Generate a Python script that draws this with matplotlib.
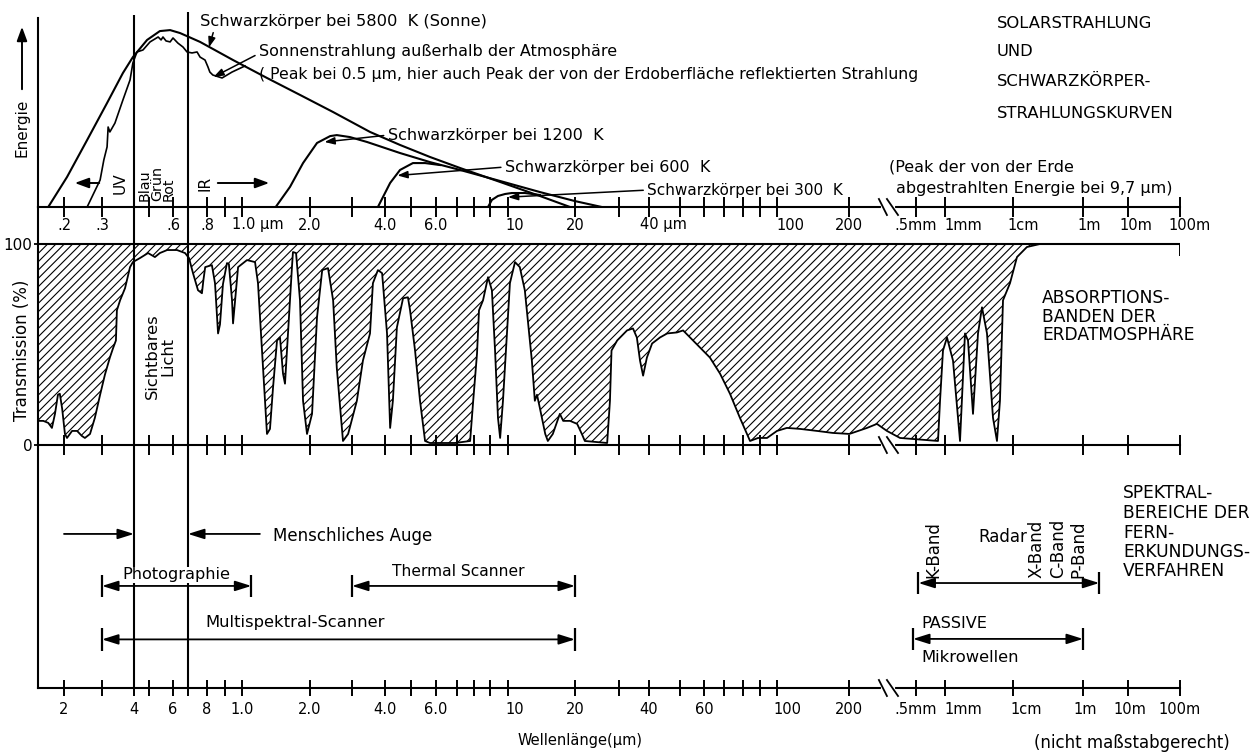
import numpy as np
import matplotlib
matplotlib.use('Agg')
import matplotlib.pyplot as plt
import matplotlib.transforms as mtransforms
from matplotlib.ticker import FixedLocator, NullLocator

plt.rcParams['font.family'] = ['DejaVu Sans']
plt.rcParams['hatch.linewidth'] = 0.8

W, H = 1254, 755

# wavelength axis (not to scale): wavelength in µm -> drawing position
axis_wl = [0.15, 0.2, 0.3, 0.4, 0.5, 0.6, 0.7, 0.8, 0.9, 1.0, 2, 3, 4, 5, 6, 7, 8, 9, 10,
           20, 30, 40, 50, 60, 70, 80, 90, 100, 200, 500, 1000, 1e4, 1e6, 1e7, 1e8]
axis_pos = [38, 64, 102, 134, 149, 173, 188, 207, 225, 242, 310, 352, 385, 411, 436, 457, 474, 490, 508,
            575, 619, 649, 680, 704, 724, 743, 760, 777, 849, 916, 945, 1013, 1083, 1128, 1180]

tick_wl = [0.2, 0.3, 0.4, 0.5, 0.6, 0.7, 0.8, 0.9, 1.0, 2, 3, 4, 5, 6, 7, 8, 9, 10,
           20, 30, 40, 50, 60, 70, 80, 90, 100, 200, 500, 1000, 1e4, 1e6, 1e7, 1e8]

upper_lbl_wl = [0.2, 0.3, 0.6, 0.8, 1.0, 2, 4, 6, 10, 20, 40, 100, 200, 500, 1000, 1e4, 1e6, 1e7, 1e8]
upper_lbl_txt = ['.2', '.3', '.6', '.8', '1.0 µm', '2.0', '4.0', '6.0', '10', '20', '40 µm',
                 '100', '200', '.5mm', '1mm', '1cm', '1m', '10m', '100m']
lower_lbl_wl = [0.2, 0.4, 0.6, 0.8, 1.0, 2, 4, 6, 10, 20, 40, 60, 100, 200, 500, 1000, 1e4, 1e6, 1e7, 1e8]
lower_lbl_txt = ['2', '4', '6', '8', '1.0', '2.0', '4.0', '6.0', '10', '20', '40', '60',
                 '100', '200', '.5mm', '1mm', '1cm', '1m', '10m', '100m']

# radiation curves (relative energy)
bb5800_wl = [0.168, 0.2065, 0.256, 0.314, 0.362, 0.396, 0.486, 0.543, 0.587, 0.645, 0.762, 0.946,
             1.29, 1.806, 2.5, 3.51, 4.55, 5.74, 7.17, 9.55, 13.9, 19.0]
bb5800_e = [0, 15.2, 34, 52.8, 68, 76.1, 84.8, 89.3, 89.8, 88.3, 83.8, 74.6,
            65.5, 56.9, 48.2, 38.1, 31.5, 25.4, 19.8, 12.7, 5.6, 0]
sun_wl = [0.256, 0.294, 0.305, 0.314, 0.317, 0.322, 0.337, 0.362, 0.386, 0.396, 0.418, 0.457,
          0.504, 0.523, 0.536, 0.548, 0.556, 0.569, 0.587, 0.6, 0.631, 0.665, 0.693, 0.72,
          0.746, 0.762, 0.789, 0.805, 0.815, 0.831, 0.883, 0.94, 1.031]
sun_e = [0, 13.7, 23.9, 30.5, 40.6, 38.1, 42.6, 54.3, 64.5, 73.1, 78.7, 79.7,
         83.8, 85.3, 86.3, 84.8, 86.3, 84.3, 83.8, 85.8, 83.2, 81.2, 78.7, 78.2,
         78.7, 76.1, 74.6, 71.1, 68.5, 67, 65.5, 68.5, 71.6]
bb1200_wl = [1.41, 1.631, 1.863, 2.14, 2.43, 2.59, 2.94, 3.42, 4.55, 5.74, 7.17, 9.55, 13.9, 20, 25.6]
bb1200_e = [0, 10.2, 22.3, 32.5, 36, 36.5, 35.5, 33, 27.4, 22.8, 18.8, 13.2, 7.6, 3.0, 0]
bb600_wl = [3.76, 4.18, 4.55, 5.07, 5.54, 6.18]
bb600_e = [0, 12.2, 18.8, 22.3, 22.3, 21.3]
bb300_wl = [8.87, 9.1, 9.43, 9.83, 10.4, 11.9, 13.9]
bb300_e = [0, 3.6, 5.6, 6.6, 7.1, 7.1, 6.1]

# atmospheric transmission (%)
trans_wl = [0.15, 0.159, 0.168, 0.175, 0.181, 0.187, 0.191, 0.196, 0.202, 0.2065, 0.218, 0.23,
            0.242, 0.25, 0.264, 0.278, 0.294, 0.308, 0.322, 0.331, 0.34, 0.343, 0.353, 0.369,
            0.386, 0.396, 0.437, 0.493, 0.523, 0.543, 0.574, 0.625, 0.679, 0.705, 0.725, 0.751,
            0.772, 0.78, 0.79, 0.826, 0.843, 0.86, 0.871, 0.888, 0.911, 0.922, 0.94, 0.946,
            0.958, 0.976, 1.052, 1.142, 1.177, 1.239, 1.29, 1.33, 1.372, 1.429, 1.473, 1.519,
            1.55, 1.598, 1.664, 1.681, 1.735, 1.806, 1.863, 1.94, 2.04, 2.14, 2.25, 2.38,
            2.5, 2.59, 2.75, 2.89, 3.13, 3.3, 3.51, 3.6, 3.76, 3.9, 4.07, 4.18,
            4.28, 4.43, 4.67, 4.87, 4.96, 5.15, 5.34, 5.54, 5.74, 6.41, 6.9, 7.76,
            7.95, 8.18, 8.3, 8.55, 8.87, 9.1, 9.27, 9.43, 9.55, 9.71, 9.94, 10.2,
            10.75, 11.3, 11.9, 12.8, 13.2, 13.5, 13.9, 14.7, 15.1, 15.9, 17.1, 17.7,
            19.0, 20.4, 21.3, 21.9, 26.9, 27.6, 28.0, 29.5, 32.4, 34.3, 35.6, 36.7,
            37.8, 39.2, 40.9, 43.3, 45.6, 48.9, 51.2, 54.0, 58.2, 62.8, 67.9, 73.0,
            78.3, 82.2, 84.0, 88.8, 94.0, 100, 110, 125, 147, 171, 201, 256,
            293, 336, 402, 480, 846, 888, 953, 1070, 1311, 1663, 1968, 2179,
            2581, 3058, 3499, 4145, 5080, 5810, 6430, 7130, 9030, 1.3e4, 2.5e4, 5.9e4, 1e8]
trans_pct = [12, 12, 11, 8.5, 15.5, 25, 25.5, 18, 5.5, 3.5, 7, 7,
             4.5, 3.5, 5.5, 13.5, 25, 35, 43.5, 48, 52, 67, 72, 78,
             88.5, 91, 93, 95.5, 93.5, 95.5, 97, 97, 95.5, 93, 85.5, 77,
             75.5, 82, 88.5, 89.5, 80.5, 55.5, 60, 80, 90.5, 90, 72, 60.5,
             72, 88.5, 92, 91, 80.5, 38.5, 5.5, 8, 28.5, 52, 53.5, 35.5,
             30.5, 55.5, 88.5, 96, 95.5, 72, 22, 5.5, 15.5, 63.5, 87, 88,
             72, 38.5, 2, 5.5, 22, 42, 55.5, 80.5, 87, 85.5, 55.5, 8.5,
             22, 58.5, 73, 73.5, 67, 47, 22, 2, 1, 1, 1, 2,
             22, 45.5, 67, 72, 83.5, 77, 47, 13.5, 3.5, 22, 55.5, 80.5,
             91, 88.5, 77, 42, 22, 25, 18.5, 5.5, 2, 5.5, 15.5, 12,
             12, 10.5, 5.5, 2, 1, 22, 47, 52, 57, 58, 53.5, 42,
             34.5, 43.5, 50.5, 53.5, 55.5, 56, 57, 53.5, 48.5, 43.5, 35.5, 25.5,
             13.5, 5.5, 2, 3.5, 3.5, 7, 8.5, 8, 7, 6, 5.5, 8.5,
             10.5, 7, 3.5, 3, 2, 22, 47, 53.5, 42, 2, 55.5, 52,
             15.5, 55.5, 68.5, 55.5, 13.5, 2, 22, 72, 80.5, 93.5, 98.5, 100, 100]

# remote sensing ranges (µm)
range_names = ['Photographie', 'Thermal Scanner', 'Multispektral-Scanner', 'Radar', 'Mikrowellen']
range_lo = [0.3, 3, 0.3, 530, 480]
range_hi = [1.1, 20, 20, 2.3e6, 1e6]
range_row = [42, 42, 20, 43.2, 20.2]
eye_from = [0.2, 1.2]
eye_to = [0.4, 0.7]
eye_row = 63.4
visible_edges = [0.4, 0.7]

LOG_A = np.log10(axis_wl)
POS_A = np.array(axis_pos, dtype=float)


def fwd(w):
    w = np.asarray(w, dtype=float)
    return np.interp(np.log10(np.maximum(w, 1e-12)), LOG_A, POS_A)


def inv(p):
    return 10 ** np.interp(np.asarray(p, dtype=float), POS_A, LOG_A)


fig = plt.figure(figsize=(W / 100, H / 100), dpi=100)


def make_ax(top_px, bot_px):
    ax = fig.add_axes([38 / W, 1 - bot_px / H, 1142 / W, (bot_px - top_px) / H])
    ax.set_xscale('function', functions=(fwd, inv))
    ax.set_xlim(0.15, 1e8)
    ax.patch.set_visible(False)
    for s in ['top', 'right']:
        ax.spines[s].set_visible(False)
    for s in ['left', 'bottom']:
        ax.spines[s].set_linewidth(1.5)
    ax.xaxis.set_major_locator(FixedLocator(tick_wl))
    ax.xaxis.set_minor_locator(NullLocator())
    ax.tick_params(axis='x', direction='inout', length=15, width=1.4, labelbottom=False)
    ax.set_yticks([])
    return ax


def ftext(x, y, s, **kw):
    kw.setdefault('fontsize', 11.5)
    kw.setdefault('va', 'center')
    fig.text(x / W, 1 - y / H, s, **kw)


def farrow(x0, y0, x1, y1):
    fig.add_artist(matplotlib.patches.FancyArrowPatch(
        (x0 / W, 1 - y0 / H), (x1 / W, 1 - y1 / H), transform=fig.transFigure,
        arrowstyle='-|>,head_length=0.6,head_width=0.22', mutation_scale=14, lw=1.4, color='k'))


ax_e = make_ax(10, 207)
ax_t = make_ax(207, 445)
ax_b = make_ax(445, 688)
ax_e.set_ylim(0, 100)
ax_t.set_ylim(0, 100 * 238 / 201)
ax_b.set_ylim(0, 100)
ax_e.spines['left'].set_bounds(0, 96)
ax_b.tick_params(axis='x', length=12)


def axis_labels(ax, wls, txts, dy, shifts):
    for wl, txt in zip(wls, txts):
        ha, dx = shifts.get(txt, ('center', 0))
        tr = mtransforms.offset_copy(ax.get_xaxis_transform(), fig=fig, x=dx, y=-dy, units='dots')
        ax.text(wl, 0, txt, transform=tr, ha=ha, va='center', fontsize=10.5)


axis_labels(ax_e, upper_lbl_wl, upper_lbl_txt, 18,
            {'1.0 µm': ('left', -10), '40 µm': ('left', -9), '100': ('left', -1), '1mm': ('left', -1),
             '10': ('center', 7), '1cm': ('center', 10), '1m': ('center', 6), '10m': ('center', 8),
             '100m': ('center', 10)})
axis_labels(ax_b, lower_lbl_wl, lower_lbl_txt, 21,
            {'10': ('center', 7), '100': ('center', 10), '1mm': ('left', -1), '1cm': ('center', 13),
             '1m': ('center', 2), '10m': ('center', 2)})

# axis breaks
for ax, hpx in [(ax_e, 197), (ax_t, 238), (ax_b, 243)]:
    d = 8 / hpx
    tr = ax.get_xaxis_transform()
    ax.plot([318, 365], [0, 0], color='white', lw=3, transform=tr, clip_on=False, zorder=5)
    for a, b in [(301, 336), (336, 391)]:
        ax.plot([a, b], [d, -d], color='k', lw=1.3, transform=tr, clip_on=False, zorder=6)

# --- top panel: radiation curves
lw = 1.5
ax_e.plot(bb5800_wl, bb5800_e, color='k', lw=lw)
ax_e.plot(sun_wl, sun_e, color='k', lw=1.2)
ax_e.plot(bb1200_wl, bb1200_e, color='k', lw=lw)
ax_e.plot(bb600_wl, bb600_e, color='k', lw=lw)
ax_e.plot(bb300_wl, bb300_e, color='k', lw=lw)

ap = dict(arrowstyle='-|>,head_length=0.5,head_width=0.18', mutation_scale=12, lw=1.1, color='k',
          shrinkA=1, shrinkB=0)
ax_e.annotate('Schwarzkörper bei 5800  K (Sonne)', xy=(0.81, 81), xytext=(0.762, 94.4),
              ha='left', va='center', fontsize=11.7, arrowprops=dict(ap, relpos=(0.05, 0)))
ax_e.annotate('Sonnenstrahlung außerhalb der Atmosphäre', xy=(0.835, 66), xytext=(1.19, 78.7),
              ha='left', va='center', fontsize=11.5, arrowprops=dict(ap, relpos=(0, 0.4)))
ax_e.text(1.19, 67.5, '( Peak bei 0.5 µm, hier auch Peak der von der Erdoberfläche reflektierten Strahlung',
          ha='left', va='center', fontsize=11.3)
ax_e.annotate('Schwarzkörper bei 1200  K', xy=(2.3, 33), xytext=(4.1, 36.5),
              ha='left', va='center', fontsize=11.5, arrowprops=dict(ap, relpos=(0, 0.5)))
ax_e.annotate('Schwarzkörper bei 600  K', xy=(4.45, 16), xytext=(9.83, 20.3),
              ha='left', va='center', fontsize=11.5, arrowprops=dict(ap, relpos=(0, 0.5)))
ax_e.annotate('Schwarzkörper bei 300  K', xy=(10.0, 5), xytext=(39.4, 8.6),
              ha='left', va='center', fontsize=11, arrowprops=dict(ap, relpos=(0, 0.5)))

ax_e.vlines(visible_edges, 0, [97.5, 99], color='k', lw=1.5)

ftext(22, 128, 'Energie', rotation=90, ha='center', fontsize=11)
farrow(22, 92, 22, 24)
ftext(120, 183, 'UV', rotation=90, ha='center', fontsize=11)
farrow(102, 183, 72, 183)
fig.text(157 / W, 1 - 201 / H, 'Blau\nGrün\nRot', rotation=90, ha='center', va='bottom',
         fontsize=10.3, linespacing=0.82, multialignment='left')
ftext(205, 183, 'IR', rotation=90, ha='center', fontsize=11)
farrow(215, 183, 272, 183)

for y, s in [(23, 'SOLARSTRAHLUNG'), (52, 'UND'), (81, 'SCHWARZKÖRPER-'), (113, 'STRAHLUNGSKURVEN')]:
    ftext(997, y, s, fontsize=11.8)
ftext(889, 167, '(Peak der von der Erde')
ftext(896, 188, 'abgestrahlten Energie bei 9,7 µm)')

# --- middle panel: atmospheric transmission
ax_t.fill_between(trans_wl, trans_pct, 100, facecolor='white', edgecolor='k', hatch='////', lw=0)
ax_t.plot(trans_wl, trans_pct, color='k', lw=1.3)
ax_t.axhline(100, color='k', lw=1.5)
ax_t.vlines(1e8, 94, 100, color='k', lw=1.4)
ax_t.set_yticks([0, 100])
ax_t.set_yticklabels(['0', '100'])
ax_t.tick_params(axis='y', length=3, width=1.3, labelsize=11, pad=1)
for v in visible_edges:
    ax_t.axvline(v, color='k', lw=1.5)
ftext(22, 350, 'Transmission (%)', rotation=90, ha='center', fontsize=12)
ftext(160, 356, 'Sichtbares\nLicht', rotation=90, ha='center', fontsize=11.7, linespacing=1.0)
for y, s in [(298, 'ABSORPTIONS-'), (317, 'BANDEN DER'), (335, 'ERDATMOSPHÄRE')]:
    ftext(1042, y, s, fontsize=12.3)

# --- bottom panel: remote sensing ranges
ax_b.vlines(visible_edges, 0, 100, color='k', lw=1.5, zorder=2)
bar_ap = dict(arrowstyle='<|-|>,head_length=0.7,head_width=0.22', mutation_scale=14, lw=1.3,
              color='k', shrinkA=0, shrinkB=0)
for lo, hi, lvl in zip(range_lo, range_hi, range_row):
    ax_b.annotate('', xy=(lo, lvl), xytext=(hi, lvl), arrowprops=bar_ap, zorder=4)
    ax_b.vlines([lo, hi], lvl - 4.6, lvl + 4.6, color='k', lw=1.6, zorder=4)
for a, b in zip(eye_from, eye_to):
    ax_b.annotate('', xy=(b, eye_row), xytext=(a, eye_row),
                  arrowprops=dict(bar_ap, arrowstyle='-|>,head_length=0.7,head_width=0.22'))

ftext(273, 536, 'Menschliches Auge', fontsize=12)
ftext(176, 575, 'Photographie', ha='center', zorder=3, fontsize=11.6,
      bbox=dict(facecolor='white', edgecolor='none', pad=0.5))
ftext(458, 572, 'Thermal Scanner', ha='center', fontsize=11.2)
ftext(295, 623, 'Multispektral-Scanner', ha='center', fontsize=11.8)
ftext(933, 578, 'K-Band', rotation=90, ha='center', va='bottom', fontsize=12)
ftext(978, 537, 'Radar', fontsize=12)
for x, s in [(1037, 'X-Band'), (1058, 'C-Band'), (1078, 'P-Band')]:
    ftext(x, 578, s, rotation=90, ha='center', va='bottom', fontsize=12)
ftext(921, 623, 'PASSIVE', fontsize=11.6)
ftext(921, 657, 'Mikrowellen', fontsize=11.8)
for y, s in [(493, 'SPEKTRAL-'), (513, 'BEREICHE DER'), (533, 'FERN-'),
             (552, 'ERKUNDUNGS-'), (571, 'VERFAHREN')]:
    ftext(1123, y, s, fontsize=12.3)
ftext(580, 740, 'Wellenlänge(µm)', ha='center', fontsize=10.5)
ftext(1132, 743, '(nicht maßstabgerecht)', ha='center', fontsize=12)

fig.savefig('out.png', dpi=100)
